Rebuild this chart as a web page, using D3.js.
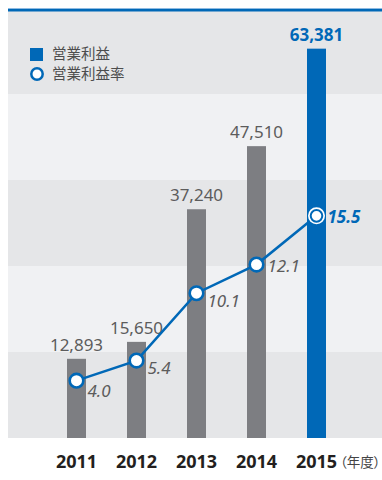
<!DOCTYPE html>
<html>
<head>
<meta charset="utf-8">
<script src="https://cdn.jsdelivr.net/npm/d3@7"></script>
<style>
  html, body { margin: 0; padding: 0; background: #ffffff; }
  svg { display: block; }
  .unit { font-feature-settings: "palt" 1; }
</style>
</head>
<body>
<svg id="chart" width="382" height="480"></svg>
<script>
// Fiscal years and values
const years = ["2011", "2012", "2013", "2014", "2015"];
const profit = [12893, 15650, 37240, 47510, 63381];      // 営業利益
const margin = [4.0, 5.4, 10.1, 12.1, 15.5];            // 営業利益率 (%)
const profitLabels = ["12,893", "15,650", "37,240", "47,510", "63,381"];
const marginLabels = ["4.0", "5.4", "10.1", "12.1", "15.5"];
const legendLabels = ["営業利益", "営業利益率"];
const unitLabel = "（年度）";

const BLUE = "#0068b7";
const GRAY_BAR = "#7d7e82";
const TEXT_GRAY = "#5c5c5c";
const BAND_DARK = "#e5e6e8";
const BAND_LIGHT = "#f0f1f3";

const svg = d3.select("#chart");
const plot = { left: 8, right: 382, top: 8, bottom: 438 };

const x = d3.scalePoint().domain(years).range([76.5, 316.5]);
const y = d3.scaleLinear().domain([0, 70000]).range([plot.bottom, plot.top]);
const yRate = d3.scaleLinear().domain([0, 30]).range([plot.bottom, plot.top]);

// Alternating background bands, one every 14,000
const bandStep = 14000;
const bands = d3.range(0, 70000, bandStep);
svg.append("g").selectAll("rect").data(bands).join("rect")
  .attr("x", plot.left)
  .attr("width", plot.right - plot.left)
  .attr("y", d => y(d + bandStep))
  .attr("height", d => y(d) - y(d + bandStep))
  .attr("fill", (d, i) => (i % 2 === 0 ? BAND_DARK : BAND_LIGHT));

// Top rule
svg.append("rect").attr("x", plot.left).attr("y", plot.top).attr("width", plot.right - plot.left).attr("height", 1).attr("fill", "#8fbbe2");
svg.append("rect").attr("x", plot.left).attr("y", plot.top + 1).attr("width", plot.right - plot.left).attr("height", 2.5).attr("fill", BLUE);

// Bars
const barW = 19;
const last = years.length - 1;
svg.append("g").selectAll("rect").data(profit).join("rect")
  .attr("x", (d, i) => x(years[i]) - barW / 2)
  .attr("width", barW)
  .attr("y", d => y(d))
  .attr("height", d => y(0) - y(d))
  .attr("fill", (d, i) => (i === last ? BLUE : GRAY_BAR));

// Bar value labels
svg.append("g").selectAll("text").data(profit).join("text")
  .attr("x", (d, i) => x(years[i]))
  .attr("y", d => y(d) - 8)
  .attr("text-anchor", "middle")
  .attr("font-family", "'Noto Sans', sans-serif")
  .attr("font-size", 17)
  .attr("font-weight", (d, i) => (i === last ? 700 : 400))
  .attr("fill", (d, i) => (i === last ? BLUE : TEXT_GRAY))
  .text((d, i) => profitLabels[i]);

// Margin line
const line = d3.line()
  .x((d, i) => x(years[i]))
  .y(d => yRate(d));
svg.append("path").datum(margin)
  .attr("d", line)
  .attr("fill", "none")
  .attr("stroke", BLUE)
  .attr("stroke-width", 2.5);

// Halo behind the marker that sits on the blue bar
svg.append("circle")
  .attr("cx", x(years[last]))
  .attr("cy", yRate(margin[last]))
  .attr("r", 8.5)
  .attr("fill", "#ffffff");

svg.append("g").selectAll("circle").data(margin).join("circle")
  .attr("cx", (d, i) => x(years[i]))
  .attr("cy", d => yRate(d))
  .attr("r", (d, i) => (i === last ? 5.8 : 6.8))
  .attr("fill", "#ffffff")
  .attr("stroke", BLUE)
  .attr("stroke-width", (d, i) => (i === last ? 2 : 2.6));

// Margin value labels
const labelDy = [16, 13, 14, 7, 7];
svg.append("g").selectAll("text").data(margin).join("text")
  .attr("x", (d, i) => x(years[i]) + 11)
  .attr("y", (d, i) => yRate(d) + labelDy[i])
  .attr("font-family", "'Noto Sans', sans-serif")
  .attr("font-size", 17)
  .attr("font-style", "italic")
  .attr("font-weight", (d, i) => (i === last ? 700 : 400))
  .attr("fill", (d, i) => (i === last ? BLUE : TEXT_GRAY))
  .text((d, i) => marginLabels[i]);

// Year axis
svg.append("g").selectAll("text").data(years).join("text")
  .attr("x", d => x(d))
  .attr("y", 468)
  .attr("text-anchor", "middle")
  .attr("font-family", "'Noto Sans', sans-serif")
  .attr("font-size", 18)
  .attr("font-weight", 700)
  .attr("fill", "#231f20")
  .text(d => d);

svg.append("text")
  .attr("class", "unit")
  .attr("x", 340)
  .attr("y", 467)
  .attr("font-family", "'Noto Sans CJK JP', sans-serif")
  .attr("font-size", 13.5)
  .attr("fill", "#444444")
  .text(unitLabel);

// Legend
const legend = svg.append("g");
legend.append("rect").attr("x", 30).attr("y", 48).attr("width", 13).attr("height", 13).attr("fill", BLUE);
legend.append("circle").attr("cx", 37).attr("cy", 74).attr("r", 5.7)
  .attr("fill", "#ffffff").attr("stroke", BLUE).attr("stroke-width", 2.5);
legend.selectAll("text").data(legendLabels).join("text")
  .attr("x", 52)
  .attr("y", (d, i) => 59 + i * 20)
  .attr("font-family", "'Noto Sans CJK JP', sans-serif")
  .attr("font-size", 14.5)
  .attr("fill", "#4d4d4d")
  .text(d => d);
</script>
</body>
</html>
